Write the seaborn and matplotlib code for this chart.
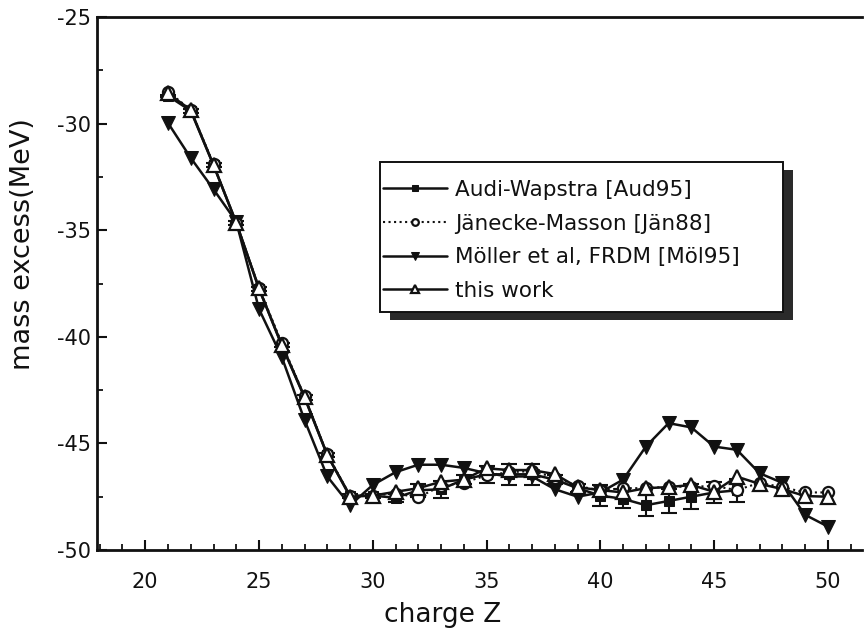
import matplotlib
matplotlib.use("Agg")
import matplotlib.pyplot as plt
import seaborn as sns
import pandas as pd
from matplotlib.patches import Rectangle
from matplotlib.ticker import MultipleLocator

# Proton number Z of the isotones
charge_z = list(range(21, 51))

# Mass excess (MeV) for each model
this_work = [-28.58, -29.36, -31.94, -34.65, -37.73, -40.38, -42.81, -45.54, -47.50, -47.45,
             -47.27, -47.10, -46.80, -46.70, -46.17, -46.25, -46.25, -46.44, -47.06, -47.19,
             -47.30, -47.10, -47.05, -46.95, -47.27, -46.56, -46.90, -47.14, -47.47, -47.50]
janecke = [-28.50, -29.35, -31.90, -34.65, -37.70, -40.30, -42.80, -45.50, -47.45, -47.45,
           -47.35, -47.53, -47.00, -46.84, -46.50, -46.35, -46.30, -46.60, -47.00, -47.20,
           -47.10, -47.10, -47.03, -47.03, -47.00, -47.19, -46.85, -47.05, -47.30, -47.30]
moller = [-29.97, -31.61, -33.08, -34.60, -38.70, -40.95, -43.90, -46.55, -47.90, -46.95,
          -46.35, -46.00, -46.00, -46.15, -46.40, -46.55, -46.55, -47.15, -47.50, -47.30,
          -46.70, -45.15, -44.05, -44.25, -45.15, -45.30, -46.40, -46.85, -48.35, -48.90]

# Audi-Wapstra evaluation only reaches Z = 46
audi_z = list(range(21, 47))
audi = [-28.70, -29.40, -31.95, -34.65, -37.75, -40.40, -42.85, -45.55, -47.45, -47.45,
        -47.55, -47.20, -47.15, -46.70, -46.45, -46.45, -46.45, -46.70, -47.10, -47.45,
        -47.60, -47.90, -47.70, -47.50, -47.30, -47.20]
audi_err = [0.05, 0.10, 0.10, 0.10, 0.10, 0.10, 0.10, 0.10, 0.10, 0.10,
            0.20, 0.30, 0.40, 0.20, 0.40, 0.50, 0.50, 0.20, 0.20, 0.50,
            0.45, 0.50, 0.55, 0.60, 0.50, 0.55]

labels = ["Audi-Wapstra [Aud95]", "Jänecke-Masson [Jän88]",
          "Möller et al, FRDM [Möl95]", "this work"]

x_ticks = [20, 25, 30, 35, 40, 45, 50]
y_ticks = [-50, -45, -40, -35, -30, -25]

sns.set_theme(style="ticks")
plt.rcParams["font.family"] = ["DejaVu Sans"]
plt.rcParams["axes.unicode_minus"] = False

W, H = 865, 636
fig = plt.figure(figsize=(W / 100, H / 100), dpi=100)
ax = fig.add_axes([97 / W, 1 - 550 / H, (862 - 97) / W, (550 - 17) / H])

audi_df = pd.DataFrame({"Z": audi_z, "mass": audi})
model_df = pd.DataFrame({"Z": charge_z, "this": this_work,
                         "jan": janecke, "mol": moller})

ink = "#111111"
lw = 1.8
ms = 8

ax.errorbar(audi_z, audi, yerr=audi_err, fmt="none", ecolor=ink,
            elinewidth=1.5, capsize=5.5, capthick=1.5, zorder=2)

sns.lineplot(data=audi_df, x="Z", y="mass", ax=ax, color=ink, lw=lw,
             marker="s", markersize=ms - 1.5, markerfacecolor=ink,
             markeredgecolor=ink, label=labels[0], sort=False, zorder=3)
sns.lineplot(data=model_df, x="Z", y="jan", ax=ax, color=ink, lw=1.5,
             linestyle=":", marker="o", markersize=ms, markerfacecolor="white",
             markeredgecolor=ink, markeredgewidth=1.6, label=labels[1],
             sort=False, zorder=4)
sns.lineplot(data=model_df, x="Z", y="mol", ax=ax, color=ink, lw=lw,
             marker="v", markersize=ms + 1.5, markerfacecolor=ink,
             markeredgecolor=ink, label=labels[2], sort=False, zorder=3)
sns.lineplot(data=model_df, x="Z", y="this", ax=ax, color=ink, lw=lw,
             marker="^", markersize=ms + 1.5, markerfacecolor="white",
             markeredgecolor=ink, markeredgewidth=1.6, label=labels[3],
             sort=False, zorder=5)

ax.set_xlim(17.88, 51.5)
ax.set_ylim(-50, -25)
ax.set_xticks(x_ticks)
ax.set_yticks(y_ticks)
ax.xaxis.set_minor_locator(MultipleLocator(1))
ax.yaxis.set_minor_locator(MultipleLocator(2.5))
ax.tick_params(axis="both", which="major", direction="in", length=7,
               width=1.5, labelsize=15, colors=ink)
ax.tick_params(axis="x", which="major", pad=16)
ax.tick_params(axis="y", which="major", pad=4)
ax.tick_params(axis="both", which="minor", direction="in", length=4,
               width=1.3, colors=ink)

for side in ["left", "bottom", "top"]:
    ax.spines[side].set_linewidth(2)
    ax.spines[side].set_color(ink)
ax.spines["right"].set_visible(False)

ax.set_xlabel("charge Z", fontsize=19, color=ink, labelpad=10)
ax.set_ylabel("mass excess(MeV)", fontsize=19.5, color=ink, labelpad=6)
ax.xaxis.set_label_coords(0.452, -0.098)
ax.yaxis.set_label_coords(-0.080, 0.574)

# Legend frame with a solid drop shadow, drawn in figure pixels
box_l, box_t, box_r, box_b = 380, 162, 783, 312
fig.patches.append(Rectangle(((box_l + 10) / W, 1 - (box_b + 8) / H),
                             (box_r - box_l) / W, (box_b - box_t) / H,
                             transform=fig.transFigure, facecolor="#2a2a2a",
                             edgecolor="none", zorder=8))
fig.patches.append(Rectangle((box_l / W, 1 - box_b / H),
                             (box_r - box_l) / W, (box_b - box_t) / H,
                             transform=fig.transFigure, facecolor="white",
                             edgecolor=ink, linewidth=1.4, zorder=9))

handles, _ = ax.get_legend_handles_labels()
if ax.get_legend() is not None:
    ax.get_legend().remove()
leg = fig.legend(handles, labels, loc="upper left",
                 bbox_to_anchor=(383 / W, 1 - 180 / H),
                 bbox_transform=fig.transFigure, fontsize=15.5,
                 frameon=False, handlelength=2.95, handletextpad=0.38,
                 labelspacing=0.63, borderpad=0, borderaxespad=0,
                 markerscale=0.6)
leg.set_zorder(10)
for t in leg.get_texts():
    t.set_color(ink)

fig.savefig("out.png", dpi=100, facecolor="white")
